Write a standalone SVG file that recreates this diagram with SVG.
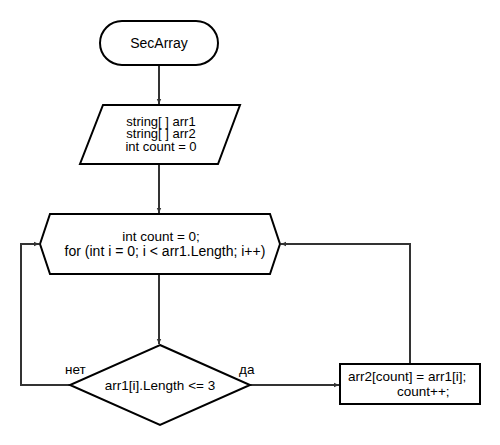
<svg xmlns="http://www.w3.org/2000/svg" width="500" height="445" viewBox="0 0 500 445">
  <style>
    .shape { fill: #ffffff; stroke: #000000; stroke-width: 2; }
    .conn { fill: none; stroke: #333333; stroke-width: 2; }
    text { font-family: "Liberation Sans", Arial, sans-serif; font-size: 13.5px; fill: #000000; }
    .mid { text-anchor: middle; }
    .tight { font-size: 13px; }
  </style>
  <defs>
    <marker id="arrow" markerWidth="6" markerHeight="6" refX="5" refY="3" orient="auto" markerUnits="userSpaceOnUse">
      <path d="M0,0.8 L5,3 L0,5.2 Z" fill="#333333"/>
    </marker>
  </defs>

  <g id="connectors">
    <path class="conn" d="M159,66 V104" marker-end="url(#arrow)"/>
    <path class="conn" d="M159,165 V213" marker-end="url(#arrow)"/>
    <path class="conn" d="M159,275 V344" marker-end="url(#arrow)"/>
    <path class="conn" d="M70,385 H21 V244 H39" marker-end="url(#arrow)"/>
    <path class="conn" d="M250,385 H339" marker-end="url(#arrow)"/>
    <path class="conn" d="M410,364 V244 H281" marker-end="url(#arrow)"/>
  </g>

  <g id="start">
    <rect class="shape" x="100" y="21" width="118" height="44" rx="22" ry="22"/>
    <text class="mid" x="159" y="48" style="font-size:14px">SecArray</text>
  </g>

  <g id="input">
    <polygon class="shape" points="103,105 240,105 218,164 80,164"/>
    <text class="mid tight" x="161" y="126">string[ ] arr1</text>
    <text class="mid tight" x="161" y="138">string[ ] arr2</text>
    <text class="mid tight" x="161" y="151">int count = 0</text>
  </g>

  <g id="loop">
    <polygon class="shape" points="40,244 50,214 270,214 280,244 270,274 50,274"/>
    <text class="mid" x="161" y="241">int count = 0;</text>
    <text class="mid" x="165" y="256" style="font-size:14px">for (int i = 0; i &lt; arr1.Length; i++)</text>
  </g>

  <g id="condition">
    <polygon class="shape" points="160,345 250,385 160,425 70,385"/>
    <text class="mid" x="160" y="390">arr1[i].Length &lt;= 3</text>
    <text x="65" y="374">нет</text>
    <text x="239" y="374">да</text>
  </g>

  <g id="assign">
    <rect class="shape" x="340" y="364" width="140" height="40"/>
    <text x="348" y="381">arr2[count] = arr1[i];</text>
    <text x="397" y="396">count++;</text>
  </g>
</svg>
